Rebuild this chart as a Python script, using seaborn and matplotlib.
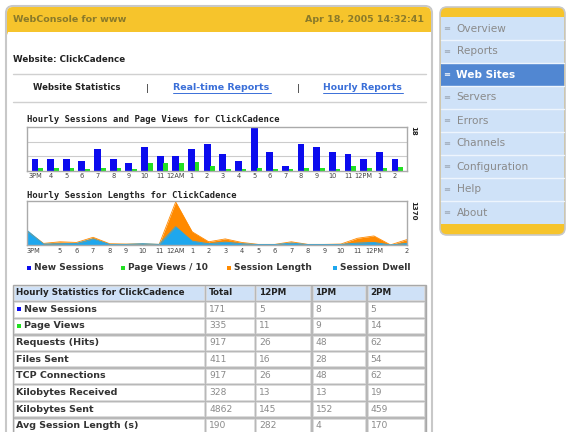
import numpy as np
import pandas as pd
import matplotlib
matplotlib.use("Agg")
import matplotlib.pyplot as plt
import matplotlib.patches as mpatches
import seaborn as sns

# ---------------- data ----------------
hours = ["3PM", "4", "5", "6", "7", "8", "9", "10", "11", "12AM", "1", "2",
         "3", "4", "5", "6", "7", "8", "9", "10", "11", "12PM", "1", "2"]
new_sessions = [5, 5, 5, 4, 9, 5, 3, 10, 6, 6, 9, 11, 7, 4, 18, 8, 2, 11, 10, 8, 7, 5, 8, 5]
page_views_10 = [1.0, 1.0, 1.0, 0.8, 1.2, 1.0, 0.8, 3.0, 3.0, 3.0, 3.5, 2.0,
                 0.8, 0.6, 1.2, 0.8, 0.8, 0.9, 0.9, 0.8, 2.0, 1.1, 0.9, 1.4]
session_length = [440, 50, 100, 80, 240, 40, 30, 40, 20, 1340, 410, 100,
                  190, 80, 20, 20, 100, 20, 20, 30, 210, 282, 4, 170]
session_dwell = [460, 30, 40, 50, 190, 20, 20, 40, 20, 570, 120, 40,
                 90, 40, 15, 15, 60, 15, 15, 20, 60, 80, 4, 50]
sessions_max_label = "18"
length_max_label = "1370"

legend_labels = ["New Sessions", "Page Views / 10", "Session Length", "Session Dwell"]
legend_colors = ["#0b0bee", "#22e022", "#ff8a00", "#1ea7ee"]

menu_items = ["Overview", "Reports", "Web Sites", "Servers", "Errors",
              "Channels", "Configuration", "Help", "About"]
selected_menu = "Web Sites"

table_header = ["Hourly Statistics for ClickCadence", "Total", "12PM", "1PM", "2PM"]
table_rows = ["New Sessions", "Page Views", "Requests (Hits)", "Files Sent",
              "TCP Connections", "Kilobytes Received", "Kilobytes Sent",
              "Avg Session Length (s)"]
table_total = [171, 335, 917, 411, 917, 328, 4862, 190]
table_12pm = [5, 11, 26, 16, 26, 13, 145, 282]
table_1pm = [8, 9, 48, 28, 48, 13, 152, 4]
table_2pm = [5, 14, 62, 54, 62, 19, 459, 170]

# ---------------- setup ----------------
sns.set_theme(style="white")
plt.rcParams["font.family"] = ["DejaVu Sans"]

W, H = 566, 432
fig = plt.figure(figsize=(W / 100, H / 100), dpi=100)
fig.patch.set_facecolor("white")
bg = fig.add_axes([0, 0, 1, 1])
bg.set_xlim(0, W)
bg.set_ylim(H, 0)
bg.axis("off")

YELLOW = "#f6c42c"
TXT = "#222222"

# main panel
bg.add_patch(mpatches.FancyBboxPatch((6, 6), 426, 460, boxstyle="round,pad=0,rounding_size=7",
                                     fc="white", ec="#c8c8c8", lw=1.5))
bg.add_patch(mpatches.FancyBboxPatch((7, 7), 424, 30, boxstyle="round,pad=0,rounding_size=6",
                                     fc=YELLOW, ec="none"))
bg.add_patch(mpatches.Rectangle((7.5, 32), 423, 10, fc="white", ec="none"))
bg.text(13, 19.5, "WebConsole for www", fontsize=6.8, fontweight="bold", color="#8a7a2a", va="center")
bg.text(424, 19.5, "Apr 18, 2005 14:32:41", fontsize=6.8, fontweight="bold", color="#8a7a2a",
        va="center", ha="right")

bg.text(13, 60, "Website: ClickCadence", fontsize=6.3, fontweight="bold", color=TXT, va="center")
bg.plot([13, 426], [73.5, 73.5], color="#d0d0d0", lw=1)
bg.plot([13, 426], [101.5, 101.5], color="#d0d0d0", lw=1)
bg.text(33, 88, "Website Statistics", fontsize=6.1, fontweight="bold", color=TXT, va="center")
bg.text(147, 88.5, "|", fontsize=6, color=TXT, va="center", ha="center")
bg.text(173, 88, "Real-time Reports", fontsize=6.8, fontweight="bold", color="#3a6fd8", va="center")
bg.plot([173, 271], [92.5, 92.5], color="#3a6fd8", lw=0.7)
bg.text(298, 88.5, "|", fontsize=6, color=TXT, va="center", ha="center")
bg.text(323, 88, "Hourly Reports", fontsize=6.7, fontweight="bold", color="#3a6fd8", va="center")
bg.plot([323, 403], [92.5, 92.5], color="#3a6fd8", lw=0.7)

mono = "DejaVu Sans Mono"
bg.text(27, 120, "Hourly Sessions and Page Views for ClickCadence", fontsize=6.4,
        fontweight="bold", family=mono, color=TXT, va="center")
bg.text(27, 195, "Hourly Session Lengths for ClickCadence", fontsize=6.4,
        fontweight="bold", family=mono, color=TXT, va="center")
bg.text(413, 131, sessions_max_label, fontsize=5, fontweight="bold", rotation=270,
        color=TXT, va="center", ha="center")
bg.text(413, 211, length_max_label, fontsize=5, fontweight="bold", rotation=270,
        color=TXT, va="center", ha="center")

# legend
leg_x = [27, 121, 227, 333]
for xx, lab, col in zip(leg_x, legend_labels, legend_colors):
    bg.add_patch(mpatches.Rectangle((xx, 265.5), 4, 4, fc=col, ec="none"))
    bg.text(xx + 7, 268, lab, fontsize=6.5, fontweight="bold", color="#333333", va="center")

# ---------------- bar chart ----------------
ax1 = fig.add_axes([27 / W, 1 - 170.5 / H, 380 / W, 44 / H])
df = pd.DataFrame({"pos": np.arange(len(hours)), "sessions": new_sessions,
                   "views": page_views_10})
df["pos_views"] = df["pos"] + 0.36
sns.barplot(data=df, x="pos", y="sessions", native_scale=True, width=0.44,
            color=legend_colors[0], saturation=1, linewidth=0, ax=ax1)
sns.barplot(data=df, x="pos_views", y="views", native_scale=True, width=0.3,
            color=legend_colors[1], saturation=1, linewidth=0, ax=ax1)
ax1.set_xlim(-0.51, 23.77)
ax1.set_ylim(0, 18.6)
ax1.set_yticks([6, 12])
ax1.yaxis.grid(True, color="#cccccc", lw=0.8)
ax1.set_axisbelow(True)
ax1.set_yticklabels([])
ax1.set_xticks(np.arange(len(hours)))
ax1.set_xticklabels(hours, fontsize=4.8, color="#444444")
ax1.tick_params(axis="both", length=0, pad=2)
ax1.set_xlabel("")
ax1.set_ylabel("")
for s in ax1.spines.values():
    s.set_color("#aaaaaa")
    s.set_linewidth(1)

# ---------------- area chart ----------------
ax2 = fig.add_axes([27 / W, 1 - 245 / H, 380 / W, 44 / H])
pos = np.arange(len(hours))
ax2.fill_between(pos, 0, session_length, color=legend_colors[2], lw=0)
ax2.fill_between(pos, 0, session_dwell, color=legend_colors[3], lw=0)
sns.lineplot(x=pos, y=session_length, color=legend_colors[2], lw=0.6, ax=ax2)
sns.lineplot(x=pos, y=session_dwell, color=legend_colors[3], lw=0.6, ax=ax2)
ax2.set_xlim(0, 23)
ax2.set_ylim(0, 1370)
ax2.set_yticks([])
tick_idx = [i for i in range(len(hours)) if i not in (1, 22)]
ax2.set_xticks(tick_idx)
ax2.set_xticklabels([hours[i] for i in tick_idx], fontsize=4.8, color="#444444")
ax2.get_xticklabels()[0].set_ha("left")
ax2.tick_params(axis="both", length=0, pad=2)
for s in ax2.spines.values():
    s.set_color("#aaaaaa")
    s.set_linewidth(1)

# ---------------- table ----------------
col_x = [12.5, 205, 255, 311.5, 366.5, 425.5]
row_top = 284.5
row_h = 16.6
n_rows = len(table_rows) + 1
bg.add_patch(mpatches.Rectangle((col_x[0], row_top), col_x[-1] - col_x[0], row_h * n_rows + 2,
                                fc="#b8b8b8", ec="#a8a8a8", lw=1))
rows_all = [table_header] + [[lab, t, a, b, c] for lab, t, a, b, c in
                             zip(table_rows, table_total, table_12pm, table_1pm, table_2pm)]
for r, row in enumerate(rows_all):
    y0 = row_top + r * row_h
    for c in range(5):
        x0 = col_x[c]
        bg.add_patch(mpatches.Rectangle((x0 + 1.2, y0 + 1.2), col_x[c + 1] - x0 - 2.4, row_h - 2.4,
                                        fc="#cfe1f7" if r == 0 else "white", ec="#dddddd", lw=0.5))
        txt = str(row[c])
        yc = y0 + row_h / 2
        if r == 0:
            bg.text(x0 + 4, yc, txt, fontsize=6.3, fontweight="bold", color=TXT, va="center")
        elif c == 0:
            tx = x0 + 4
            if r in (1, 2):
                bg.add_patch(mpatches.Rectangle((x0 + 4, yc - 2), 4, 4,
                                                fc=legend_colors[r - 1], ec="none"))
                tx = x0 + 12
            bg.text(tx, yc, txt, fontsize=6.8, fontweight="bold", color="#333333", va="center")
        else:
            bg.text(x0 + 4, yc, txt, fontsize=6.6, color="#8a8a8a", va="center")

# ---------------- sidebar ----------------
bg.add_patch(mpatches.FancyBboxPatch((440, 7), 125, 228, boxstyle="round,pad=0,rounding_size=7",
                                     fc=YELLOW, ec="#c8c8c8", lw=1.2))
menu_top = 17
menu_h = 23
bg.add_patch(mpatches.Rectangle((440.7, menu_top), 123.6, menu_h * len(menu_items),
                                fc="#cfe2f8", ec="none"))
for k, item in enumerate(menu_items):
    y0 = menu_top + k * menu_h
    sel = item == selected_menu
    if sel:
        bg.add_patch(mpatches.Rectangle((440.7, y0), 123.6, menu_h, fc="#5187d2", ec="none"))
    if k > 0:
        bg.plot([441, 564], [y0, y0], color="#eef5fd", lw=1)
    yc = y0 + menu_h / 2
    bg.text(447, yc, "≡", fontsize=6, color="#ffffff" if sel else "#9aa6b3", va="center", ha="center")
    bg.text(456.5, yc, item, fontsize=7.6, color="#ffffff" if sel else "#8a8a8a",
            fontweight="bold" if sel else "normal", va="center")

fig.savefig("out.png", dpi=100, facecolor="white")
